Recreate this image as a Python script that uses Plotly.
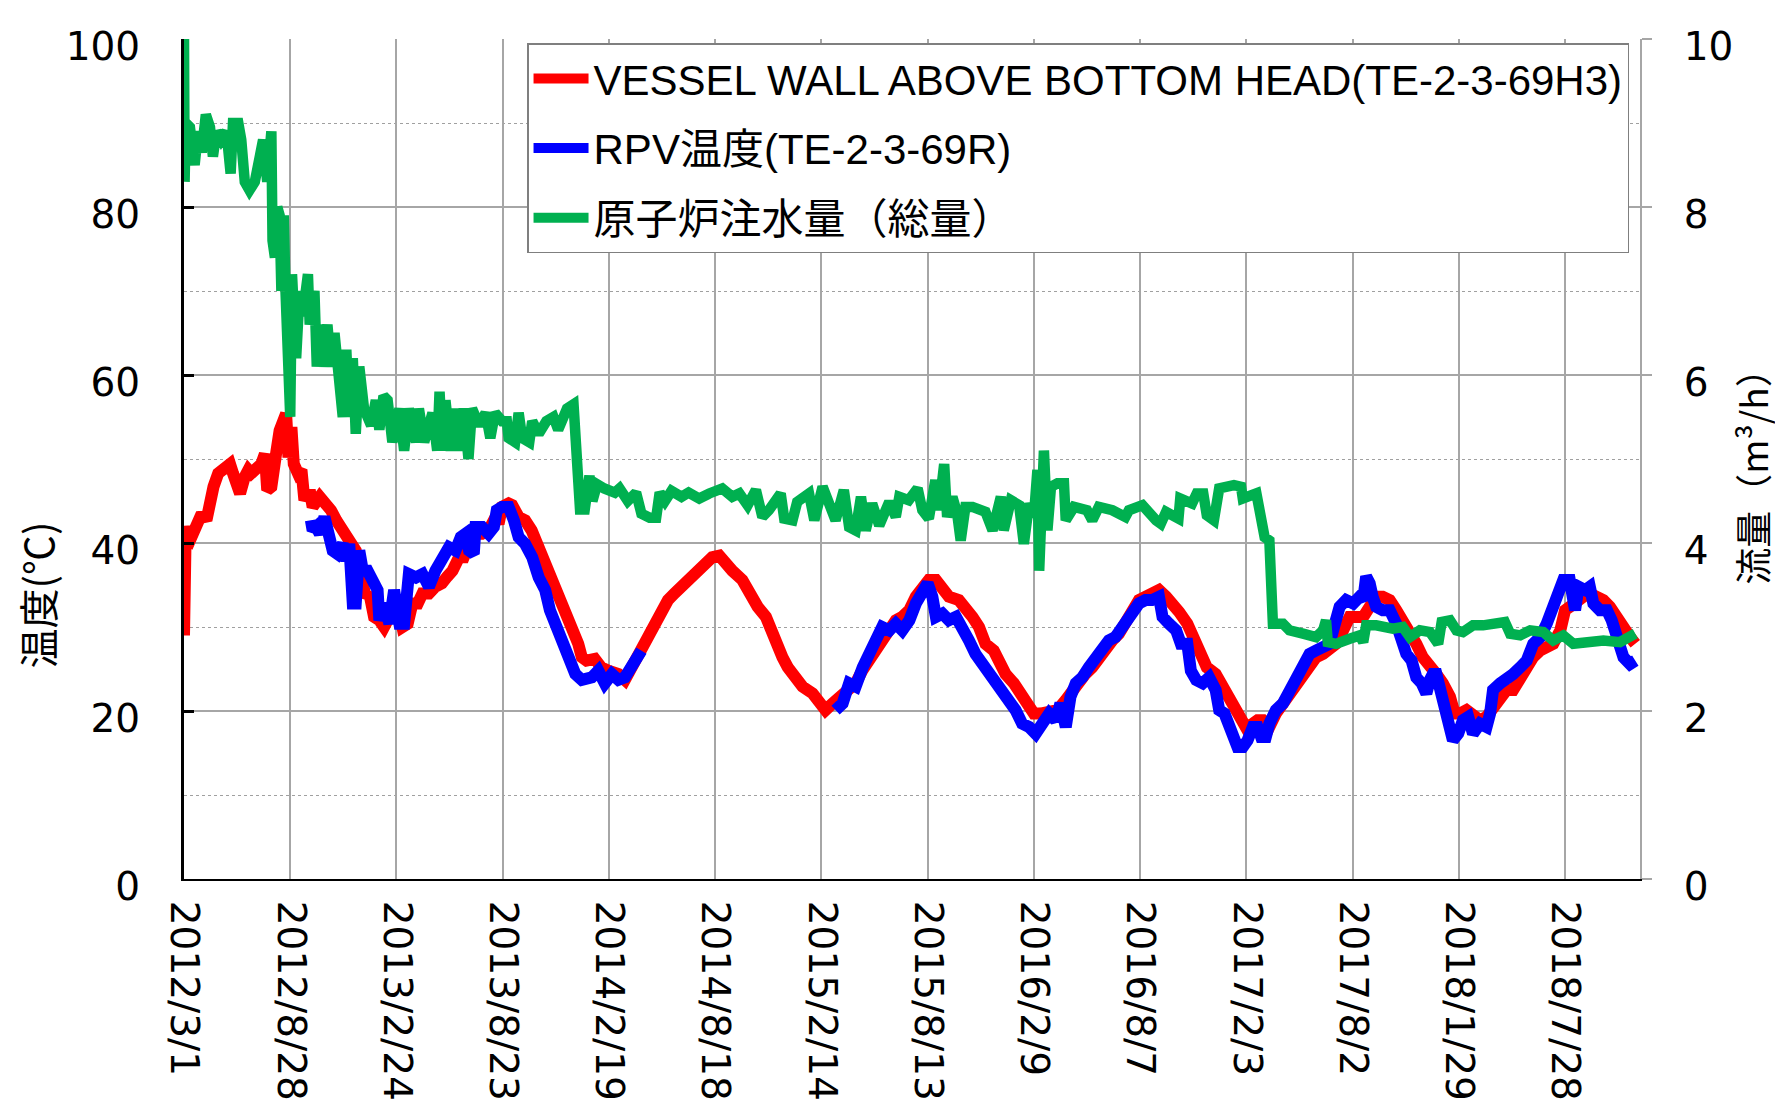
import plotly.graph_objects as go
import pandas as pd

START = pd.Timestamp("2012-03-01")

# ---- tick labels (x axis) ----
tick_labels = ["2012/3/1", "2012/8/28", "2013/2/24", "2013/8/23", "2014/2/19", "2014/8/18",
               "2015/2/14", "2015/8/13", "2016/2/9", "2016/8/7", "2017/2/3", "2017/8/2",
               "2018/1/29", "2018/7/28"]
x_end = "2018-12-02"

# ---- VESSEL WALL ABOVE BOTTOM HEAD (TE-2-3-69H3), days since 2012/3/1, degC ----
red_day = [0, 1, 3, 6, 10, 16, 24, 30, 38, 44, 50, 58, 66, 78, 83, 89, 95, 103, 109, 114, 123, 131, 137, 141,
           148, 151, 156, 162, 168, 173, 177, 182, 186, 193, 199, 204, 213, 218, 230, 241, 249, 258, 266, 275,
           283, 291, 300, 308, 314, 322, 331, 339, 348, 359, 370, 379, 387, 396, 404, 415, 426, 437, 446, 455,
           466, 474, 483, 488, 494, 505, 516, 528, 533, 539, 550, 556, 567, 578, 589, 601, 612, 623, 635, 646,
           657, 668, 674, 682, 696, 707, 719, 736, 747, 755, 764, 775, 786, 795, 806, 820, 831, 843, 854, 871,
           884, 895, 907, 918, 929, 946, 958, 972, 986, 994, 1006, 1014, 1023, 1034, 1048, 1065, 1076, 1087,
           1099, 1110, 1124, 1138, 1149, 1161, 1172, 1183, 1195, 1206, 1217, 1229, 1240, 1251, 1262, 1274, 1285,
           1296, 1313, 1324, 1336, 1347, 1358, 1372, 1381, 1392, 1406, 1418, 1429, 1440, 1451, 1466, 1480, 1494,
           1505, 1516, 1527, 1539, 1550, 1561, 1573, 1584, 1595, 1607, 1618, 1629, 1640, 1652, 1664, 1675, 1686,
           1700, 1710, 1722, 1733, 1748, 1759, 1771, 1782, 1794, 1802, 1811, 1819, 1828, 1839, 1850, 1862, 1873,
           1884, 1896, 1907, 1918, 1930, 1941, 1952, 1964, 1975, 1986, 1998, 2009, 2020, 2031, 2043, 2054, 2065,
           2077, 2088, 2099, 2111, 2122, 2133, 2145, 2153, 2162, 2173, 2184, 2196, 2207, 2218, 2230, 2241, 2252,
           2264, 2275, 2286, 2298, 2309, 2320, 2332, 2340, 2348, 2360, 2371, 2382, 2394, 2405, 2416, 2428, 2439,
           2450, 2459]
red_temp = [29.0, 41.5, 42.0, 40.5, 40.3, 41.5, 42.3, 43.5, 42.7, 45.9, 46.7, 48.3, 48.7, 49.4, 48.3, 46.3, 45.9,
            47.9, 48.7, 48.3, 49.0, 49.4, 50.6, 46.3, 46.7, 49.4, 50.6, 53.4, 54.6, 55.4, 50.2, 53.8, 49.4, 48.3,
            48.7, 45.1, 46.3, 44.3, 45.5, 44.7, 43.9, 42.7, 41.9, 41.1, 39.9, 39.1, 36.0, 33.6, 34.0, 31.2, 30.8,
            30.0, 31.2, 33.6, 30.0, 30.4, 32.8, 32.8, 34.0, 34.0, 34.8, 35.2, 36.0, 36.7, 38.3, 38.3, 39.9, 39.9,
            41.1, 41.1, 41.5, 43.1, 42.3, 44.3, 44.7, 44.5, 43.1, 42.7, 41.5, 39.5, 37.1, 35.6, 33.6, 31.6, 30.4,
            28.0, 26.4, 26.0, 26.2, 25.2, 24.8, 24.4, 23.7, 24.8, 26.0, 27.2, 28.8, 30.4, 31.6, 33.2, 34.0, 34.8,
            35.6, 37.1, 37.5, 38.3, 38.5, 37.5, 36.7, 35.6, 34.0, 32.4, 31.2, 29.6, 28.0, 26.4, 25.2, 24.0, 22.9,
            22.1, 20.9, 20.1, 20.9, 21.7, 22.5, 23.3, 24.8, 26.0, 27.2, 28.4, 30.0, 30.8, 31.2, 32.0, 33.6, 34.8,
            35.6, 35.6, 34.4, 33.6, 33.2, 32.4, 31.2, 30.0, 28.0, 27.2, 25.6, 24.4, 23.3, 22.1, 20.9, 19.7, 19.7,
            20.1, 20.1, 21.3, 22.5, 23.3, 24.4, 25.2, 26.4, 27.2, 28.4, 29.2, 30.4, 31.6, 33.2, 33.6, 34.0, 34.4,
            33.6, 32.4, 31.8, 30.4, 28.8, 26.4, 25.2, 24.4, 22.9, 21.7, 20.5, 18.5, 17.7, 18.5, 18.9, 18.9, 18.1,
            19.7, 20.9, 21.7, 23.3, 24.0, 25.2, 26.4, 26.8, 27.6, 28.0, 29.6, 31.2, 31.2, 31.2, 32.4, 33.6, 33.6,
            33.2, 32.0, 30.8, 29.2, 28.0, 26.4, 25.6, 24.4, 23.3, 21.7, 19.7, 19.7, 20.1, 19.3, 18.9, 19.3, 20.5,
            21.7, 22.5, 22.5, 24.0, 25.2, 26.4, 27.2, 27.6, 28.0, 29.6, 32.0, 32.4, 33.2, 33.6, 34.0, 33.6, 33.2,
            32.4, 30.8, 30.0, 28.8, 28.0]

# ---- RPV temperature (TE-2-3-69R) ; None = no data ----
blue_day = [215, 218, 224, 230, 238, 244, 252, 260, 269, 275, 280, 286, 291, 297, 303, 311, 320, 328, 331, 339,
            348, 356, 365, 373, 381, 393, 404, 415, 426, 438, 449, 460, 469, 477, 483, 491, 494, 505, 516, 525,
            530, 539, 550, 559, 567, 578, 590, 601, 612, 620, 629, 637, 646, 654, 663, 674, 691, 702, 713, 725,
            736, 747, 758, 767, 775, 940,
            1104, 1116, 1127, 1138, 1150, 1161, 1172, 1183, 1195, 1206, 1217, 1229, 1240, 1251, 1260, 1268, 1274,
            1285, 1296, 1308, 1319, 1330, 1341, 1353, 1364, 1375, 1387, 1398, 1409, 1420, 1432, 1443, 1454, 1466,
            1477, 1485, 1494, 1502, 1511, 1522, 1533, 1545, 1556, 1567, 1578, 1590, 1601, 1612, 1618, 1629, 1640,
            1652, 1658, 1669, 1681, 1689, 1700, 1706, 1715, 1726, 1737, 1748, 1754, 1763, 1771, 1777, 1785, 1794,
            1802, 1811, 1819, 1825, 1833, 1839, 1850, 1862, 1870, 1881, 1890, 1898, 1907, 1918, 1930, 1941, 1947,
            1958, 1969, 1981, 1992, 1998, 2003, 2009, 2014, 2020, 2031, 2043, 2054, 2063, 2071, 2080, 2088, 2097,
            2105, 2111, 2116, 2122, 2131, 2136, 2142, 2150, 2159, 2167, 2176, 2184, 2196, 2207, 2213, 2218, 2230,
            2241, 2252, 2264, 2275, 2286, 2298, 2309, 2318, 2326, 2332, 2337, 2348, 2357, 2363, 2374, 2382, 2388,
            2399, 2411, 2419, 2428, 2439, 2450, 2459]
blue_temp = [42.7, 41.5, 41.9, 41.1, 43.1, 40.7, 39.1, 38.7, 39.9, 37.9, 39.9, 32.8, 32.8, 39.1, 36.7, 36.7, 35.2,
             34.4, 30.8, 32.8, 30.4, 34.4, 30.4, 30.4, 36.3, 35.9, 36.3, 34.8, 36.7, 37.9, 39.5, 39.1, 40.7, 41.1,
             39.1, 38.7, 41.9, 41.9, 41.1, 41.9, 43.9, 44.3, 44.3, 42.7, 40.7, 39.9, 38.3, 35.9, 34.4, 32.0, 30.4,
             28.8, 27.2, 25.6, 24.4, 23.7, 24.0, 24.8, 23.3, 24.4, 23.7, 24.0, 25.2, 26.8, 27.2, None,
             20.1, 20.9, 23.3, 22.9, 25.2, 26.8, 28.8, 30.0, 29.6, 30.4, 29.6, 30.8, 32.8, 34.4, 35.2, 33.6, 31.2,
             31.6, 30.8, 31.2, 30.0, 28.4, 26.8, 25.6, 24.8, 23.3, 22.1, 21.3, 20.1, 18.5, 18.1, 17.3, 18.5, 19.7,
             18.9, 20.9, 18.1, 21.7, 23.3, 24.0, 25.2, 26.4, 27.6, 28.4, 28.8, 30.0, 30.8, 32.0, 32.8, 33.2, 33.2,
             33.6, 31.2, 30.4, 29.6, 28.0, 28.0, 24.8, 23.7, 23.3, 24.0, 22.5, 20.1, 19.7, 18.5, 16.9, 15.7, 15.7,
             16.5, 18.1, 18.1, 16.9, 16.9, 18.5, 20.1, 20.9, 22.1, 23.7, 24.8, 26.0, 26.8, 27.2, 27.6, 28.0, 29.6,
             32.4, 33.2, 32.8, 33.6, 33.2, 36.0, 35.2, 33.6, 32.4, 32.0, 32.0, 30.4, 28.0, 26.8, 26.0, 24.0, 23.3,
             22.1, 23.7, 24.4, 24.4, 21.7, 19.7, 17.7, 16.5, 17.3, 18.9, 19.3, 17.3, 18.5, 18.1, 19.7, 22.5, 23.3,
             23.7, 24.4, 25.2, 26.0, 28.0, 28.8, 30.4, 32.0, 34.0, 35.2, 35.6, 35.6, 32.0, 34.8, 34.4, 34.8, 32.8,
             32.0, 32.0, 30.8, 28.8, 26.4, 25.6, 26.0]

# ---- Reactor water injection (total), m3/h ----
green_day = [0, 1, 3, 10, 18, 24, 30, 37, 44, 49, 55, 63, 72, 79, 83, 92, 97, 103, 111, 120, 128, 134, 141, 148,
             150, 154, 158, 162, 165, 169, 172, 178, 180, 183, 190, 196, 201, 210, 213, 221, 225, 229, 235, 243,
             249, 255, 263, 269, 275, 280, 286, 291, 297, 300, 305, 317, 325, 331, 338, 345, 353, 365, 373, 381,
             393, 398, 407, 421, 429, 433, 438, 443, 452, 457, 466, 474, 482, 488, 500, 511, 519, 527, 539, 547,
             550, 561, 567, 573, 585, 590, 601, 614, 626, 634, 643, 649, 660, 663, 666, 671, 679, 687, 692, 700,
             712, 730, 738, 752, 766, 775, 789, 800, 806, 815, 826, 843, 855, 873, 890, 912, 929, 941, 955, 969,
             980, 991, 1011, 1017, 1031, 1039, 1059, 1068, 1082, 1090, 1104, 1118, 1127, 1138, 1147, 1155, 1166,
             1178, 1195, 1206, 1212, 1228, 1243, 1251, 1262, 1273, 1279, 1288, 1293, 1302, 1310, 1316, 1324, 1336,
             1347, 1358, 1370, 1384, 1389, 1401, 1415, 1423, 1432, 1440, 1446, 1449, 1457, 1463, 1469, 1480, 1491,
             1494, 1508, 1530, 1539, 1550, 1573, 1595, 1601, 1624, 1647, 1655, 1664, 1685, 1688, 1708, 1716, 1727,
             1733, 1745, 1754, 1779, 1791, 1794, 1817, 1825, 1831, 1839, 1842, 1845, 1862, 1873, 1896, 1918, 1930,
             1935, 1938, 1952, 1975, 1992, 1998, 2003, 2020, 2048, 2065, 2077, 2094, 2111, 2125, 2131, 2145, 2156,
             2167, 2184, 2201, 2218, 2238, 2247, 2264, 2281, 2303, 2320, 2337, 2354, 2377, 2405, 2433, 2450, 2459]
green_flow = [10.0, 8.3, 9.0, 8.95, 8.5, 8.9, 8.65, 9.1, 8.95, 8.6, 8.9, 8.8, 8.9, 8.4, 9.0, 9.0, 8.8, 8.3, 8.2,
              8.3, 8.7, 8.8, 8.3, 8.9, 7.6, 7.4, 8.0, 7.9, 7.0, 7.9, 7.0, 6.1, 5.5, 7.2, 6.2, 7.0, 6.7, 7.2, 6.6,
              7.0, 6.1, 6.6, 6.1, 6.6, 6.1, 6.5, 5.8, 5.5, 6.3, 5.5, 6.2, 5.3, 6.1, 5.7, 5.6, 5.4, 5.7, 5.35, 5.75,
              5.7, 5.2, 5.6, 5.1, 5.6, 5.2, 5.6, 5.2, 5.55, 5.1, 5.8, 5.1, 5.7, 5.1, 5.6, 5.1, 5.6, 5.0, 5.6, 5.4,
              5.55, 5.25, 5.55, 5.45, 5.45, 5.25, 5.2, 5.55, 5.25, 5.2, 5.45, 5.3, 5.45, 5.5, 5.35, 5.55, 5.6, 5.65,
              5.1, 4.55, 4.4, 4.4, 4.8, 4.5, 4.7, 4.65, 4.6, 4.65, 4.5, 4.6, 4.35, 4.3, 4.3, 4.6, 4.5, 4.62, 4.55,
              4.6, 4.53, 4.59, 4.65, 4.55, 4.59, 4.45, 4.63, 4.31, 4.39, 4.59, 4.29, 4.27, 4.49, 4.59, 4.27, 4.67,
              4.55, 4.27, 4.63, 4.19, 4.15, 4.55, 4.15, 4.47, 4.21, 4.49, 4.31, 4.55, 4.51, 4.65, 4.39, 4.29, 4.75,
              4.39, 4.94, 4.31, 4.55, 4.35, 4.03, 4.43, 4.43, 4.39, 4.37, 4.15, 4.55, 4.15, 4.51, 4.45, 3.99, 4.47,
              4.31, 4.87, 3.67, 5.10, 4.15, 4.67, 4.71, 4.71, 4.27, 4.43, 4.39, 4.27, 4.43, 4.39, 4.31, 4.39, 4.45,
              4.27, 4.23, 4.37, 4.29, 4.53, 4.47, 4.59, 4.59, 4.33, 4.27, 4.65, 4.69, 4.67, 4.53, 4.59, 4.35, 4.07,
              4.03, 3.44, 3.04, 3.04, 2.96, 2.92, 2.88, 2.96, 3.08, 2.82, 2.80, 2.86, 2.90, 2.82, 3.02, 3.02, 2.98,
              3.00, 2.88, 2.96, 2.94, 2.80, 3.06, 3.08, 2.96, 2.94, 3.02, 3.02, 3.04, 3.06, 2.92, 2.90, 2.96, 2.94,
              2.84, 2.90, 2.80, 2.82, 2.84, 2.82, 2.90, 2.92]

names = ["VESSEL WALL ABOVE BOTTOM HEAD(TE-2-3-69H3)", "RPV温度(TE-2-3-69R)", "原子炉注水量（総量）"]


def to_dates(days):
    return [START + pd.Timedelta(days=d) for d in days]


tick_vals = pd.to_datetime(tick_labels, format="%Y/%m/%d")

fig = go.Figure()
fig.add_trace(go.Scatter(x=to_dates(red_day), y=red_temp, mode="lines", name=names[0],
                         legendgroup="a", line=dict(color="#FF0000", width=12)))
fig.add_trace(go.Scatter(x=to_dates(blue_day), y=blue_temp, mode="lines", name=names[1],
                         legendgroup="b", connectgaps=False, line=dict(color="#0000FF", width=12)))
fig.add_trace(go.Scatter(x=to_dates(green_day), y=green_flow, mode="lines", name=names[2],
                         legendgroup="c", yaxis="y2", line=dict(color="#00B050", width=10.5)))

y_tick_font = dict(family="DejaVu Sans, Noto Sans CJK JP", size=39, color="black")
x_tick_font = dict(family="DejaVu Sans, Noto Sans CJK JP", size=39, color="black")
grid_c = "#A6A6A6"

fig.update_layout(
    width=1767, height=1100, autosize=False,
    margin=dict(l=176, r=135, t=31, b=229),
    paper_bgcolor="white", plot_bgcolor="white",
    showlegend=True,
    legend=dict(x=0.2356, y=0.995, xanchor="left", yanchor="top",
                bgcolor="white", bordercolor="#7F7F7F", borderwidth=1.5,
                font=dict(family="Liberation Sans, Noto Sans CJK JP", size=42, color="black"),
                itemwidth=55, tracegroupgap=12),
    xaxis=dict(type="date", range=[START, pd.Timestamp(x_end)], automargin=False,
               tickvals=tick_vals, ticktext=tick_labels, tickangle=90,
               tickfont=x_tick_font, ticks="", ticklabelstandoff=12,
               showgrid=True, gridcolor=grid_c, gridwidth=1.5,
               showline=True, linecolor="black", linewidth=2, zeroline=False),
    yaxis=dict(range=[0, 100], tickvals=[0, 20, 40, 60, 80, 100], tickfont=y_tick_font,
               automargin=False,
               showgrid=True, gridcolor=grid_c, gridwidth=1.5,
               minor=dict(tickvals=[10, 30, 50, 70, 90], showgrid=True, gridcolor="#A0A0A0",
                          griddash="dot", gridwidth=1.2, ticks=""),
               showline=True, linecolor="black", linewidth=3,
               ticks="inside", ticklen=10, tickwidth=3, tickcolor="black",
               ticklabelstandoff=33, ticklabelshift=7, zeroline=False),
    yaxis2=dict(range=[0, 10], tickvals=[0, 2, 4, 6, 8, 10], overlaying="y", side="right",
                automargin=False,
                tickfont=y_tick_font, showgrid=False,
                showline=True, linecolor=grid_c, linewidth=2,
                ticks="outside", ticklen=10, tickwidth=1.5, tickcolor=grid_c,
                ticklabelstandoff=24, ticklabelshift=7, zeroline=False),
    annotations=[
        dict(text="温度(℃)", x=-0.1006, y=0.338, xref="paper", yref="paper",
             textangle=-90, showarrow=False, xanchor="center", yanchor="middle",
             font=dict(family="Noto Sans CJK JP", size=40, color="black")),
        dict(text="流量（m³/h）", x=1.0772, y=0.49, xref="paper", yref="paper",
             textangle=-90, showarrow=False, xanchor="center", yanchor="middle",
             font=dict(family="Noto Sans CJK JP", size=37, color="black")),
    ],
)

fig.write_html("out.html")
